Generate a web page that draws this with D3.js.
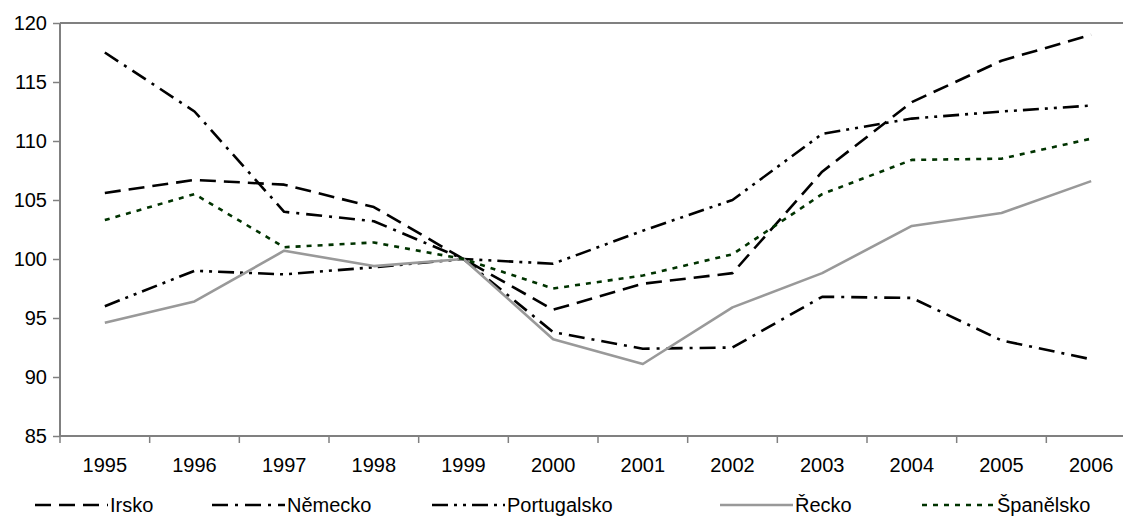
<!DOCTYPE html>
<html><head><meta charset="utf-8">
<script src="https://cdn.jsdelivr.net/npm/d3@7"></script>
<style>
body{margin:0;background:#fff;}
svg{display:block;font-family:"Liberation Sans",Arial,sans-serif;}
</style></head>
<body>
<svg id="c" width="1123" height="516"></svg>
<script>
const years = ["1995","1996","1997","1998","1999","2000","2001","2002","2003","2004","2005","2006"];
const yTicks = [85,90,95,100,105,110,115,120];
const irsko       = [105.6,106.7,106.3,104.4,100.0,95.7,97.9,98.8,107.4,113.3,116.8,119.0];
const nemecko     = [117.5,112.5,104.0,103.2,100.0,93.8,92.4,92.5,96.8,96.7,93.1,91.5];
const portugalsko = [96.0,99.0,98.7,99.3,100.0,99.6,102.4,105.0,110.6,111.9,112.5,113.0];
const recko       = [94.6,96.4,100.7,99.4,100.0,93.2,91.1,95.9,98.8,102.8,103.9,106.6];
const spanelsko   = [103.3,105.5,101.0,101.4,100.0,97.5,98.6,100.4,105.5,108.4,108.5,110.2];
const seriesNames = ["Irsko","Německo","Portugalsko","Řecko","Španělsko"];
const seriesData = [irsko,nemecko,portugalsko,recko,spanelsko];

const styles = [
  {color:"#000",dash:"16,8",w:2.6},
  {color:"#000",dash:"16,7,3,7",w:2.6},
  {color:"#000",dash:"16,6,3,6,3,6",w:2.6},
  {color:"#999",dash:null,w:2.6},
  {color:"#003300",dash:"5,6",w:2.6}
];

const FS = 20;
const svg = d3.select("#c");
const pL=60, pR=1136, pT=23, pB=436;
const x = d3.scaleBand().domain(years).range([pL,pR]);
const y = d3.scaleLinear().domain([85,120]).range([pB,pT]);

svg.append("line").attr("x1",pL).attr("x2",1123).attr("y1",pT).attr("y2",pT)
  .attr("stroke","#808080").attr("stroke-width",2);

const gx = svg.append("g").attr("transform",`translate(0,${pB})`);
gx.append("line").attr("x1",pL).attr("x2",1123).attr("stroke","#808080").attr("stroke-width",2);
const bounds = years.map(d=>x(d)).concat([x(years[years.length-1])+x.bandwidth()]);
gx.selectAll(".tk").data(bounds).enter().append("line")
  .attr("x1",d=>d).attr("x2",d=>d).attr("y1",0).attr("y2",7)
  .attr("stroke","#808080").attr("stroke-width",1.5);
gx.selectAll(".lbl").data(years).enter().append("text")
  .attr("x",d=>x(d)+x.bandwidth()/2).attr("y",36)
  .attr("text-anchor","middle").attr("font-size",FS).attr("fill","#000").text(d=>d);

const gy = svg.append("g").attr("transform",`translate(${pL},0)`);
const yAxis = d3.axisLeft(y).tickValues(yTicks).tickSize(7).tickPadding(6).tickFormat(d3.format("d"));
gy.call(yAxis);
gy.select(".domain").attr("stroke","#808080").attr("stroke-width",2).attr("d",`M0,${pT}V${pB}`);
gy.selectAll(".tick line").attr("stroke","#808080").attr("stroke-width",1.5);
gy.selectAll(".tick text").attr("font-size",FS).attr("fill","#000").attr("font-family","Liberation Sans, Arial, sans-serif");

const line = d3.line().x((d,i)=>x(years[i])+x.bandwidth()/2).y(d=>y(d));
seriesData.forEach((s,i)=>{
  svg.append("path").datum(s).attr("d",line).attr("fill","none")
    .attr("stroke",styles[i].color).attr("stroke-width",styles[i].w)
    .attr("stroke-dasharray",styles[i].dash).attr("stroke-linejoin","round");
});

const legX = [35,212,432,720,922];
const legY = 505;
const lg = svg.append("g");
seriesNames.forEach((n,i)=>{
  lg.append("line").attr("x1",legX[i]).attr("x2",legX[i]+73).attr("y1",legY).attr("y2",legY)
    .attr("stroke",styles[i].color).attr("stroke-width",styles[i].w).attr("stroke-dasharray",styles[i].dash);
  lg.append("text").attr("x",legX[i]+75).attr("y",legY+7).attr("font-size",FS).attr("fill","#000").text(n);
});
</script>
</body></html>
